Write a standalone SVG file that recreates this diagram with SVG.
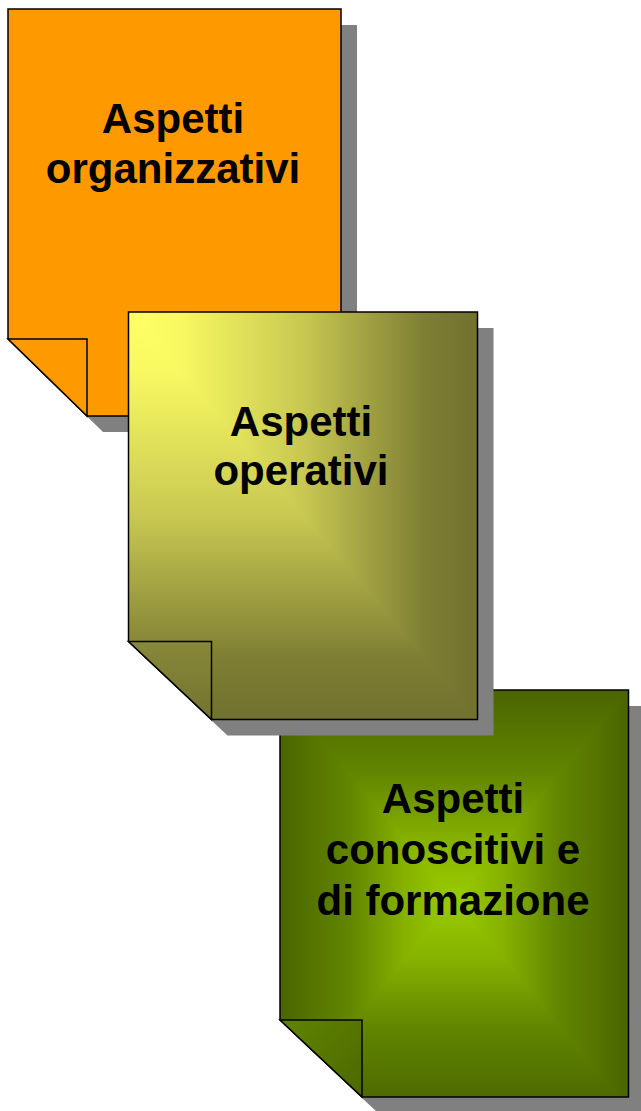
<svg xmlns="http://www.w3.org/2000/svg" width="641" height="1111" viewBox="0 0 641 1111">
  <style>
    .shadow { fill: #808080; stroke: none; }
    .outline { fill: none; stroke: #000000; stroke-width: 1.5; stroke-linejoin: miter; }
    .fold { stroke: #000000; stroke-width: 1.5; stroke-linejoin: miter; }
    .label { font-family: "Liberation Sans", Arial, sans-serif; font-weight: bold; font-size: 42px; fill: #000000; text-anchor: middle; }
  </style>
  <defs>
    <linearGradient id="g2v" gradientUnits="userSpaceOnUse" x1="0" y1="312" x2="0" y2="719.5">
      <stop offset="0" stop-color="#FFFF66"/>
      <stop offset="0.15" stop-color="#F8F862"/>
      <stop offset="0.5" stop-color="#C8C852"/>
      <stop offset="0.85" stop-color="#7E7E34"/>
      <stop offset="1" stop-color="#717130"/>
    </linearGradient>
    <linearGradient id="g2h" gradientUnits="userSpaceOnUse" x1="128.5" y1="0" x2="477.5" y2="0">
      <stop offset="0" stop-color="#FFFF66"/>
      <stop offset="0.15" stop-color="#F8F862"/>
      <stop offset="0.5" stop-color="#C8C852"/>
      <stop offset="0.85" stop-color="#7E7E34"/>
      <stop offset="1" stop-color="#717130"/>
    </linearGradient>
    <linearGradient id="g2f" gradientUnits="userSpaceOnUse" x1="0" y1="641.5" x2="0" y2="719.5">
      <stop offset="0" stop-color="#888839"/>
      <stop offset="1" stop-color="#737331"/>
    </linearGradient>
    <linearGradient id="g3v" gradientUnits="userSpaceOnUse" x1="0" y1="690" x2="0" y2="1110">
      <stop offset="0" stop-color="#4A6500"/>
      <stop offset="0.2" stop-color="#628600"/>
      <stop offset="0.36" stop-color="#86B200"/>
      <stop offset="0.5" stop-color="#99CC00"/>
      <stop offset="0.64" stop-color="#86B200"/>
      <stop offset="0.8" stop-color="#628600"/>
      <stop offset="1" stop-color="#4A6500"/>
    </linearGradient>
    <linearGradient id="g3h" gradientUnits="userSpaceOnUse" x1="280" y1="0" x2="628.5" y2="0">
      <stop offset="0" stop-color="#4A6500"/>
      <stop offset="0.2" stop-color="#628600"/>
      <stop offset="0.36" stop-color="#86B200"/>
      <stop offset="0.5" stop-color="#99CC00"/>
      <stop offset="0.64" stop-color="#86B200"/>
      <stop offset="0.8" stop-color="#628600"/>
      <stop offset="1" stop-color="#4A6500"/>
    </linearGradient>
    <linearGradient id="g3f" gradientUnits="userSpaceOnUse" x1="280" y1="1020" x2="362" y2="1097">
      <stop offset="0" stop-color="#608400"/>
      <stop offset="1" stop-color="#4C6800"/>
    </linearGradient>
    <clipPath id="clip3">
      <path d="M280,690 H628.5 V1097 H362 L280,1020 Z"/>
    </clipPath>
  </defs>

  <g id="node-organizzativi">
    <path class="shadow" d="M24,25 H357 V432 H103 L24,355 Z"/>
    <path d="M8,9 H341 V416 H87 L8,339 Z" fill="#FF9900"/>
    <path class="outline" d="M8,9 H341 V416 H87 L8,339 Z"/>
    <path class="fold" d="M8,339 H87 V416 Z" fill="#FF9900"/>
    <text class="label" x="173" y="132.5">Aspetti</text>
    <text class="label" x="173" y="182.5">organizzativi</text>
  </g>

  <g id="node-conoscitivi">
    <path class="shadow" d="M296,706 H644.5 V1113 H378 L296,1036 Z"/>
    <g clip-path="url(#clip3)">
      <rect x="280" y="690" width="348.5" height="407" fill="url(#g3v)"/>
      <polygon points="280,690 454.25,900 280,1110" fill="url(#g3h)"/>
      <polygon points="628.5,690 454.25,900 628.5,1110" fill="url(#g3h)"/>
    </g>
    <path class="outline" d="M280,690 H628.5 V1097 H362 L280,1020 Z"/>
    <path class="fold" d="M280,1020 H362 V1097 Z" fill="url(#g3f)"/>
    <text class="label" x="453" y="813">Aspetti</text>
    <text class="label" x="453" y="864">conoscitivi e</text>
    <text class="label" x="453" y="915">di formazione</text>
  </g>

  <g id="node-operativi">
    <path class="shadow" d="M144.5,328 H493.5 V735.5 H227.5 L144.5,657.5 Z"/>
    <path d="M128.5,312 H477.5 V719.5 H211.5 L128.5,641.5 Z" fill="url(#g2v)"/>
    <polygon points="128.5,312 477.5,312 477.5,719.5" fill="url(#g2h)"/>
    <path class="outline" d="M128.5,312 H477.5 V719.5 H211.5 L128.5,641.5 Z"/>
    <path class="fold" d="M128.5,641.5 H211.5 V719.5 Z" fill="url(#g2f)"/>
    <text class="label" x="301" y="436">Aspetti</text>
    <text class="label" x="301" y="485">operativi</text>
  </g>
</svg>
